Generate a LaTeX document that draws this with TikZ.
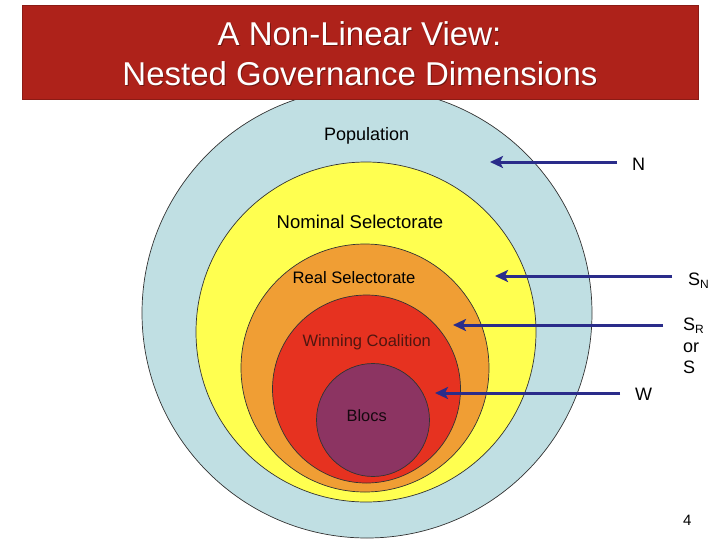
\documentclass[tikz,border=0pt]{standalone}
\usepackage{fontspec}
\setmainfont{Liberation Sans}
\usetikzlibrary{arrows.meta}

\definecolor{titlered}{RGB}{174,34,26}
\definecolor{popblue}{RGB}{192,223,227}
\definecolor{nomyellow}{RGB}{255,255,80}
\definecolor{realorange}{RGB}{240,158,52}
\definecolor{winred}{RGB}{230,50,32}
\definecolor{blocpurple}{RGB}{140,52,98}
\definecolor{pointblue}{RGB}{42,44,138}
\definecolor{wintext}{RGB}{80,22,16}

\begin{document}
\begin{tikzpicture}[x=1pt, y=-1pt,
  ring/.style={draw=black!80, line width=0.7pt},
  pointer/.style={pointblue, line width=3pt, -{Stealth[length=13pt, width=12pt, inset=3pt]}},
  sidelabel/.style={anchor=base west, inner sep=0pt, font=\fontsize{18}{22}\selectfont}]
  \useasboundingbox (0,0) rectangle (724,550);
  \fill [white] (0,0) rectangle (724,550);

  \draw [ring, fill=popblue] (367,313) circle [radius=225];
  \draw [ring, fill=nomyellow] (366,332) circle [radius=170];
  \draw [ring, fill=realorange] (365,368) circle [radius=124];
  \draw [ring, fill=winred] (366.5,389) circle [radius=94];
  \draw [ring, fill=blocpurple] (373,420) circle [radius=56.5];

  \node (population) [anchor=base, inner sep=0pt, font=\fontsize{18}{20}\selectfont] at (366.7,140.5) {Population};
  \node (nominal) [anchor=base, inner sep=0pt, font=\fontsize{18.5}{20}\selectfont] at (360,228.3) {Nominal Selectorate};
  \node (real) [anchor=base, inner sep=0pt, font=\fontsize{16.6}{18}\selectfont] at (354,283.3) {Real Selectorate};
  \node (winning) [anchor=base, inner sep=0pt, text=wintext, font=\fontsize{16.5}{18}\selectfont] at (366.7,346) {Winning Coalition};
  \node (blocs) [anchor=base, inner sep=0pt, text=black!85!blocpurple, font=\fontsize{16.4}{18}\selectfont] at (366.7,421) {Blocs};

  \fill [titlered] (22,5) rectangle (698,99);
  \draw [titlered!80!black, line width=0.6pt] (22,5) rectangle (698,99);
  \node [anchor=base, text=black, opacity=0.35, font=\fontsize{33}{40}\selectfont] at (360.5,46) {A Non-Linear View:};
  \node [anchor=base, text=black, opacity=0.35, font=\fontsize{33}{40}\selectfont] at (361,86) {Nested Governance Dimensions};
  \node (titleA) [anchor=base, text=white, font=\fontsize{33}{40}\selectfont] at (359.5,45) {A Non-Linear View:};
  \node (titleB) [anchor=base, text=white, font=\fontsize{33}{40}\selectfont] at (360,85) {Nested Governance Dimensions};

  \coordinate (nTail) at (617,162);
  \coordinate (nTip) at (490,162);
  \coordinate (snTail) at (672,276);
  \coordinate (snTip) at (495,276);
  \coordinate (srTail) at (663,325);
  \coordinate (srTip) at (453,325);
  \coordinate (wTail) at (620,393);
  \coordinate (wTip) at (435,393);
  \draw [pointer] (nTail) -- (nTip);
  \draw [pointer] (snTail) -- (snTip);
  \draw [pointer] (srTail) -- (srTip);
  \draw [pointer] (wTail) -- (wTip);

  \node (nLabel) [sidelabel] at (632,170.7) {N};
  \node (snLabel) [sidelabel] at (688,285.7) {S\raisebox{-3pt}{\fontsize{12}{12}\selectfont N}};
  \node (srLabel) [sidelabel] at (683,330) {S\raisebox{-3pt}{\fontsize{12}{12}\selectfont R}};
  \node (srOr) [sidelabel] at (683,352.3) {or};
  \node (srS) [sidelabel] at (683,373.5) {S};
  \node (wLabel) [sidelabel] at (635,400.7) {W};

  \node (pageNum) [anchor=base west, inner sep=0pt, font=\fontsize{15}{16}\selectfont] at (683,525.7) {4};
\end{tikzpicture}
\end{document}
